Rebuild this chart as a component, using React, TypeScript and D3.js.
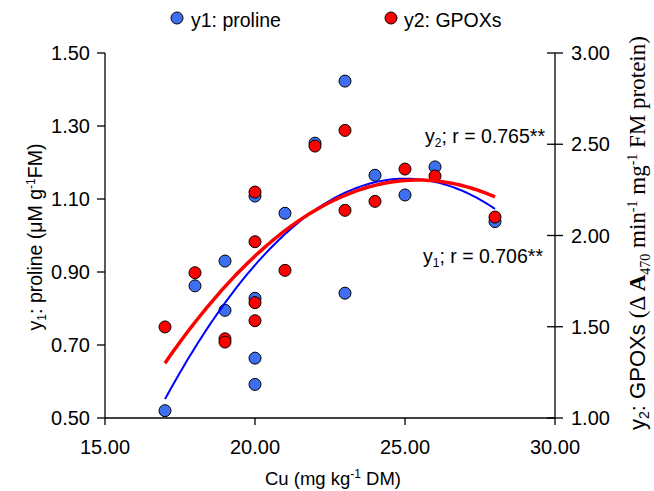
import React from 'react';
import * as d3 from 'd3';

// Cu concentration (x) with proline (y1) and GPOX (y2) readings
const cuValues = [17, 18, 19, 19, 20, 20, 20, 20, 21, 22, 23, 23, 24, 25, 26, 28];
const prolineValues = [0.52, 0.862, 0.93, 0.795, 1.108, 0.828, 0.664, 0.592, 1.061, 1.253, 1.423, 0.842, 1.165, 1.111, 1.188, 1.038];
const gpoxValues = [1.499, 1.796, 1.434, 1.416, 2.238, 1.966, 1.632, 1.533, 1.809, 2.49, 2.576, 2.138, 2.187, 2.364, 2.326, 2.101];

const xTicks = [15, 20, 25, 30];
const y1Ticks = [0.5, 0.7, 0.9, 1.1, 1.3, 1.5];
const y2Ticks = [1.0, 1.5, 2.0, 2.5, 3.0];

const BLUE_FILL = '#3d6ff0';
const RED_FILL = '#ff0000';
const FONT = 'Arial, "Liberation Sans", sans-serif';
const SERIF = '"Times New Roman", "Liberation Serif", serif';

// least squares 2nd order polynomial, returns [a, b, c] for a + b x + c x^2
function quadFit(xs: number[], ys: number[]) {
    const s = [0, 0, 0, 0, 0];
    const t = [0, 0, 0];
    xs.forEach((x, i) => {
        for (let k = 0; k < 5; k++) s[k] += Math.pow(x, k);
        for (let k = 0; k < 3; k++) t[k] += ys[i] * Math.pow(x, k);
    });
    const m = [
        [s[0], s[1], s[2], t[0]],
        [s[1], s[2], s[3], t[1]],
        [s[2], s[3], s[4], t[2]],
    ];
    for (let i = 0; i < 3; i++) {
        for (let j = i + 1; j < 3; j++) {
            const f = m[j][i] / m[i][i];
            for (let k = i; k < 4; k++) m[j][k] -= f * m[i][k];
        }
    }
    const c = [0, 0, 0];
    for (let i = 2; i >= 0; i--) {
        let v = m[i][3];
        for (let k = i + 1; k < 3; k++) v -= m[i][k] * c[k];
        c[i] = v / m[i][i];
    }
    return c;
}

export default function App() {
    const width = 654;
    const height = 491;
    const margin = { top: 53, right: 99, bottom: 73, left: 105 };
    const plotRight = width - margin.right;
    const plotBottom = height - margin.bottom;

    const x = d3.scaleLinear().domain([15, 30]).range([margin.left, plotRight]);
    const y1 = d3.scaleLinear().domain([0.5, 1.5]).range([plotBottom, margin.top]);
    const y2 = d3.scaleLinear().domain([1, 3]).range([plotBottom, margin.top]);

    const [xMin, xMax] = d3.extent(cuValues) as [number, number];
    const samples = d3.range(xMin, xMax + 0.001, 0.1);
    const fit1 = quadFit(cuValues, prolineValues);
    const fit2 = quadFit(cuValues, gpoxValues);
    const poly = (c: number[], v: number) => c[0] + c[1] * v + c[2] * v * v;

    const line1 = d3
        .line<number>()
        .x((d) => x(d))
        .y((d) => y1(poly(fit1, d)));
    const line2 = d3
        .line<number>()
        .x((d) => x(d))
        .y((d) => y2(poly(fit2, d)));

    const fmt = d3.format('.2f');

    return (
        <svg
            width={width}
            height={height}
            style={{ position: 'absolute', left: 0, top: 0, background: '#fff' }}
            fontFamily={FONT}
        >
            {/* legend */}
            <g fontSize={19.5}>
                <circle cx={177} cy={18} r={6} fill={BLUE_FILL} stroke="#000" strokeWidth={1} />
                <text x={191} y={27}>y1: proline</text>
                <circle cx={391} cy={18} r={6} fill={RED_FILL} stroke="#000" strokeWidth={1} />
                <text x={404} y={27}>y2: GPOXs</text>
            </g>

            {/* points */}
            {cuValues.map((c, i) => (
                <circle key={'b' + i} cx={x(c)} cy={y1(prolineValues[i])} r={6} fill={BLUE_FILL} stroke="#000" strokeWidth={1} />
            ))}
            {cuValues.map((c, i) => (
                <circle key={'r' + i} cx={x(c)} cy={y2(gpoxValues[i])} r={6} fill={RED_FILL} stroke="#000" strokeWidth={1} />
            ))}

            {/* trend lines */}
            <path d={line1(samples) || ''} fill="none" stroke="#0000ff" strokeWidth={2} />
            <path d={line2(samples) || ''} fill="none" stroke="#ff0000" strokeWidth={3.5} />

            {/* axes */}
            <g stroke="#000" strokeWidth={1.3}>
                <line x1={margin.left} x2={margin.left} y1={margin.top} y2={plotBottom} />
                <line x1={plotRight} x2={plotRight} y1={margin.top} y2={plotBottom} />
                <line x1={margin.left} x2={plotRight} y1={plotBottom} y2={plotBottom} />
                {y1Ticks.map((t) => (
                    <line key={'ly' + t} x1={margin.left - 8} x2={margin.left} y1={y1(t)} y2={y1(t)} />
                ))}
                {y2Ticks.map((t) => (
                    <line key={'ry' + t} x1={plotRight - 8} x2={plotRight + 8} y1={y2(t)} y2={y2(t)} />
                ))}
                {xTicks.map((t) => (
                    <line key={'xt' + t} x1={x(t)} x2={x(t)} y1={plotBottom} y2={plotBottom + 7} />
                ))}
            </g>
            <g fontSize={20}>
                {y1Ticks.map((t) => (
                    <text key={'lt' + t} x={90} y={y1(t) + 7} textAnchor="end">
                        {fmt(t)}
                    </text>
                ))}
                {y2Ticks.map((t) => (
                    <text key={'rt' + t} x={571} y={y2(t) + 7}>
                        {fmt(t)}
                    </text>
                ))}
                {xTicks.map((t) => (
                    <text key={'xl' + t} x={x(t)} y={454} textAnchor="middle">
                        {fmt(t)}
                    </text>
                ))}
            </g>

            {/* axis titles */}
            <text x={333} y={485} textAnchor="middle" fontSize={18.5}>
                Cu (mg kg
                <tspan dy={-7} fontSize={12}>-1</tspan>
                <tspan dy={7}> DM)</tspan>
            </text>
            <text transform="translate(42,237) rotate(-90)" textAnchor="middle" fontSize={19.5}>
                y
                <tspan dy={4} fontSize={12}>1</tspan>
                <tspan dy={-4}>: proline (μM g</tspan>
                <tspan dy={-7} fontSize={12}>-1</tspan>
                <tspan dy={7}>FM)</tspan>
            </text>
            <text transform="translate(645,233) rotate(-90)" textAnchor="middle" fontSize={22}>
                y
                <tspan dy={4} fontSize={14}>2</tspan>
                <tspan dy={-4}>: GPOXs </tspan>
                <tspan fontFamily={SERIF} fontSize={23}>(Δ </tspan>
                <tspan fontFamily={SERIF} fontSize={23} fontWeight="bold">A</tspan>
                <tspan fontFamily={SERIF} dy={5} fontSize={14}>470</tspan>
                <tspan fontFamily={SERIF} fontSize={23} dy={-5}> min</tspan>
                <tspan fontFamily={SERIF} dy={-8} fontSize={14}>-1</tspan>
                <tspan fontFamily={SERIF} fontSize={23} dy={8}> mg</tspan>
                <tspan fontFamily={SERIF} dy={-8} fontSize={14}>-1</tspan>
                <tspan fontFamily={SERIF} fontSize={23} dy={8}> FM protein)</tspan>
            </text>

            {/* correlation notes */}
            <text x={425} y={143} fontSize={19.5}>
                y<tspan dy={4} fontSize={12}>2</tspan>
                <tspan dy={-4}>; r = 0.765**</tspan>
            </text>
            <text x={423} y={263} fontSize={19.5}>
                y<tspan dy={4} fontSize={12}>1</tspan>
                <tspan dy={-4}>; r = 0.706**</tspan>
            </text>
        </svg>
    );
}
